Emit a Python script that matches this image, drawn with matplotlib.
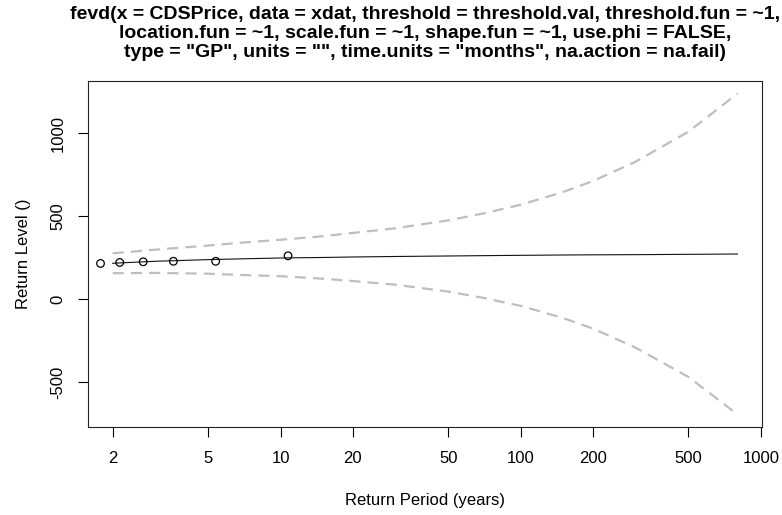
import matplotlib
matplotlib.use('Agg')
import matplotlib.pyplot as plt

# ---- data ----
T_pts = [1.78, 2.14, 2.68, 3.58, 5.37, 10.75]
rl_pts = [215, 221, 225, 228, 228, 261]

T_line = [2, 3, 5, 7, 10, 15, 20, 30, 50, 70, 100, 150, 200, 300, 500, 800]
rl_line = [216, 228, 238, 243, 248, 251, 254, 257, 260, 262, 264, 266, 267, 268, 270, 272]
rl_upper = [276, 298, 323, 341, 358, 379, 399, 427, 475, 517, 569, 646, 712, 828, 1010, 1240]
rl_lower = [156, 158, 153, 145, 138, 123, 109, 87, 45, 7, -41, -114, -178, -292, -470, -696]

xticks = [2, 5, 10, 20, 50, 100, 200, 500, 1000]
yticks = [-500, 0, 500, 1000]

title = ('fevd(x = CDSPrice, data = xdat, threshold = threshold.val, threshold.fun = ~1,\n'
         'location.fun = ~1, scale.fun = ~1, shape.fun = ~1, use.phi = FALSE,\n'
         'type = "GP", units = "", time.units = "months", na.action = na.fail)')

plt.rcParams['font.family'] = ['Liberation Sans', 'DejaVu Sans']

W, H = 782, 515
fig = plt.figure(figsize=(W / 100, H / 100), dpi=100)
L, R, B, Tp = 87.5, 762, 427, 81
ax = fig.add_axes([L / W, 1 - B / H, (R - L) / W, (B - Tp) / H])

ax.plot(T_line, rl_upper, color='#BEBEBE', lw=1.6, ls=(0, (5, 3.2)))
ax.plot(T_line, rl_lower, color='#BEBEBE', lw=1.6, ls=(0, (5, 3.2)))
ax.plot(T_line, rl_line, color='#111111', lw=0.8)
ax.scatter(T_pts, rl_pts, s=30, facecolors='none', edgecolors='black', linewidths=0.9, zorder=3)

ax.set_xscale('log')
ax.set_xlim(1.571, 1012)
ax.set_ylim(-772, 1316)
ax.set_xticks(xticks)
ax.set_xticklabels([str(v) for v in xticks])
ax.minorticks_off()
ax.set_yticks(yticks)
ax.set_yticklabels([str(v) for v in yticks], rotation=90, va='center')
ax.tick_params(axis='both', length=7, width=0.8, labelsize=12, colors='black')
ax.tick_params(axis='x', pad=10)
ax.tick_params(axis='y', pad=9)
for s in ax.spines.values():
    s.set_linewidth(0.8)
    s.set_color('#222222')

ax.set_xlabel('Return Period (years)', fontsize=12, labelpad=20)
ax.set_ylabel('Return Level ()', fontsize=12, labelpad=14)
fig.text(425 / W, 1 - 6 / H, title, ha='center', va='top', fontsize=14,
         fontweight='bold', linespacing=1.15)

fig.savefig('out.png', dpi=100)
